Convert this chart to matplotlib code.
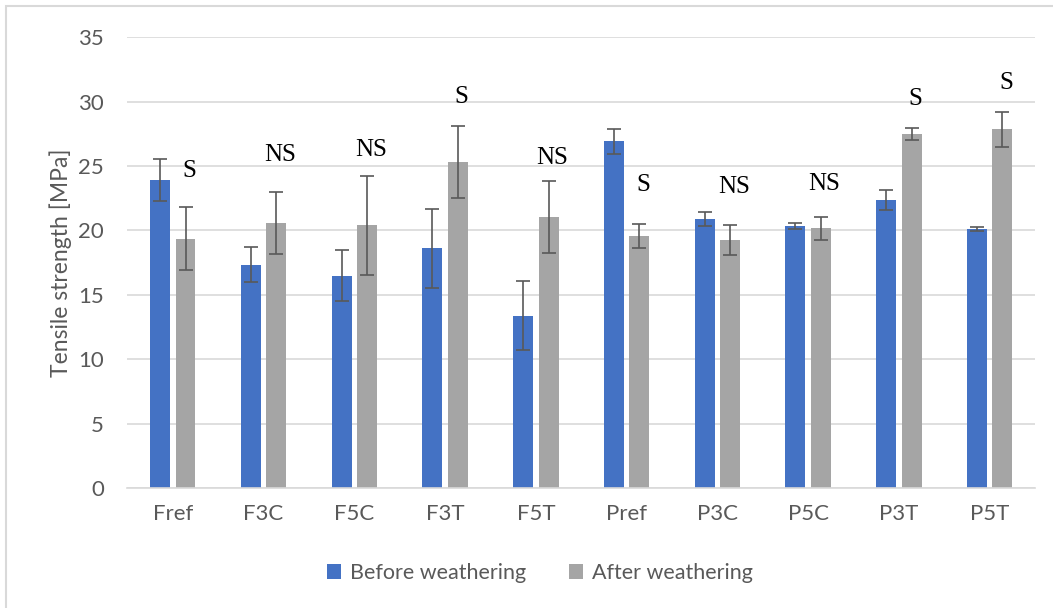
import numpy as np
import matplotlib
matplotlib.use('Agg')
import matplotlib.pyplot as plt
from matplotlib.patches import Rectangle

# --- data ---
samples = ['Fref', 'F3C', 'F5C', 'F3T', 'F5T', 'Pref', 'P3C', 'P5C', 'P3T', 'P5T']
before = [23.9, 17.35, 16.5, 18.6, 13.4, 26.9, 20.9, 20.35, 22.35, 20.1]
before_err = [1.65, 1.35, 1.95, 3.05, 2.65, 0.95, 0.55, 0.25, 0.75, 0.17]
after = [19.35, 20.6, 20.4, 25.3, 21.05, 19.55, 19.25, 20.17, 27.5, 27.85]
after_err = [2.45, 2.4, 3.85, 2.8, 2.8, 0.95, 1.15, 0.9, 0.45, 1.35]
signif = ['S', 'NS', 'NS', 'S', 'NS', 'S', 'NS', 'NS', 'S', 'S']
signif_y = [24.6, 25.84, 26.27, 30.37, 25.65, 23.49, 23.35, 23.6, 30.2, 31.4]

BLUE = '#4472C4'
GRAY = '#A5A5A5'
TXT = '#595959'
GRID = '#D9D9D9'

plt.rcParams['font.family'] = ['Lato', 'DejaVu Sans']

fig = plt.figure(figsize=(10.53, 6.08), dpi=100)
ax = fig.add_axes([0.121, 0.197, 0.862, 0.742])

x = np.arange(len(samples))
w = 0.22
off = 0.14
ekw = dict(ecolor=TXT, elinewidth=1.2, capsize=5, capthick=1.2)
ax.bar(x - off, before, w, color=BLUE, yerr=before_err, error_kw=ekw,
       label='Before weathering', zorder=2)
ax.bar(x + off, after, w, color=GRAY, yerr=after_err, error_kw=ekw,
       label='After weathering', zorder=2)

# significance marks above each sample pair
for xi, s, sy in zip(x, signif, signif_y):
    ax.text(xi + off + 0.04, sy, s, ha='center', va='center',
            family='Liberation Serif', fontsize=18, color='black')

ax.set_xlim(-0.5, len(samples) - 0.5)
ax.set_ylim(0, 35)
ax.set_yticks(np.arange(0, 36, 5))
ax.set_xticks(x)
ax.set_xticklabels(samples)
ax.yaxis.grid(True, color=GRID, linewidth=1.2, zorder=0)
ax.set_axisbelow(True)
for sp in ['top', 'right', 'left']:
    ax.spines[sp].set_visible(False)
ax.spines['bottom'].set_color(GRID)
ax.spines['bottom'].set_linewidth(1.2)
ax.tick_params(axis='both', length=0, labelsize=16, labelcolor=TXT)
ax.tick_params(axis='y', pad=17)
ax.tick_params(axis='x', pad=11)
ax.set_ylabel('Tensile strength [MPa]', fontsize=16.5, color=TXT, labelpad=4)

fig.legend(loc='center', bbox_to_anchor=(540 / 1053, 1 - 573 / 608), ncol=2,
           frameon=False, fontsize=15.5, labelcolor=TXT, handlelength=0.65,
           handleheight=0.65, handletextpad=0.4, columnspacing=2.0)

# chart area border (Excel style)
fig.patches.append(Rectangle((6 / 1053, -0.1), 1.2, 1 - 6 / 608 + 0.1,
                             transform=fig.transFigure, fill=False,
                             edgecolor=GRID, linewidth=1.5))

fig.savefig('out.png', dpi=100)
